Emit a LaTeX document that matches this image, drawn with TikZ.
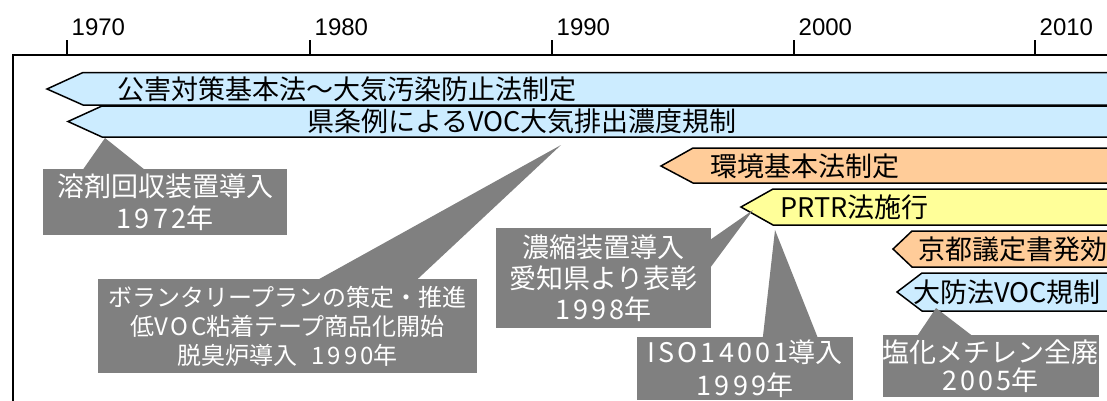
\documentclass[tikz,border=0pt]{standalone}
\usepackage{fontspec}
\usetikzlibrary{calc}
\newfontfamily\jp{Noto Sans CJK JP}
\newfontfamily\jpw{Noto Sans CJK JP}[LetterSpace=12]
\newfontfamily\lat{Liberation Sans}
\newcommand{\widedig}[1]{{\jpw #1}}
\definecolor{lblue}{HTML}{CCECFF}
\definecolor{lorange}{HTML}{FFCC99}
\definecolor{lyellow}{HTML}{FFFF99}
\definecolor{cgray}{HTML}{808080}
\begin{document}
\begin{tikzpicture}[x=1pt,y=-1pt,
  barbox/.style={draw=black,line width=1.5pt,line join=miter},
  bartext/.style={anchor=west,inner sep=0pt,font=\jp\fontsize{27}{32}\selectfont},
  yearlab/.style={anchor=base west,inner sep=0pt,font=\lat\fontsize{24}{28}\selectfont},
  axisline/.style={line width=2.6pt},
  callout/.style={fill=cgray,text=white,inner sep=0pt,align=center,font=\jp\fontsize{27}{32}\selectfont},
  pointer/.style={fill=cgray}]
\useasboundingbox (0,0) rectangle (1107,400);
\clip (0,0) rectangle (1107,400);
% axis
\draw[axisline] (13,401) -- (13,55) -- (1110,55);
\foreach \x/\y in {67/1970,310/1980,552/1990,794/2000,1035/2010}{
  \draw[axisline] (\x,40) -- (\x,56);
  \node[yearlab] (y\y) at (\x+4.5,35) {\y};
}
% bars
\draw[barbox,fill=lblue] (47,89) -- (83,72.5) -- (1115,72.5) -- (1115,105) -- (83,105) -- cycle;
\node[bartext] (b1) at (117,89) {公害対策基本法～大気汚染防止法制定};
\draw[barbox,fill=lblue] (68,121.5) -- (102,106) -- (1115,106) -- (1115,137) -- (102,137) -- cycle;
\node[bartext] (b2) at (307,121.5) {県条例によるVOC大気排出濃度規制};
\draw[barbox,fill=lorange] (661,166) -- (693,148) -- (1115,148) -- (1115,183) -- (693,183) -- cycle;
\node[bartext] (b3) at (710,166) {環境基本法制定};
\draw[barbox,fill=lyellow] (741,207) -- (773,189) -- (1115,189) -- (1115,225) -- (773,225) -- cycle;
\node[bartext] (b4) at (780,207) {PRTR法施行};
\draw[barbox,fill=lorange] (893,249) -- (912,231) -- (1115,231) -- (1115,267) -- (912,267) -- cycle;
\node[bartext] (b5) at (918,249) {京都議定書発効};
\draw[barbox,fill=lblue] (897,292) -- (922,273) -- (1115,273) -- (1115,311) -- (922,311) -- cycle;
\node[bartext] (b6) at (913,292) {大防法VOC規制};
% callout tips
\coordinate (t1) at (105,138);
\coordinate (t2) at (561,145);
\coordinate (t3) at (753,210);
\coordinate (t4) at (775,230);
\coordinate (t5) at (936,308);
% callouts
\node[callout,minimum width=244pt,minimum height=66pt] (c1) at (165,202) {溶剤回収装置導入\\\widedig{1972}年};
\fill[pointer] ($(c1.north west)+(40,1)$) -- (t1) -- ($(c1.north west)+(102,1)$) -- cycle;
\node[callout,minimum width=379pt,minimum height=94pt,font=\jp\fontsize{24}{29}\selectfont] (c2) at (287.5,326) {ボランタリープランの策定・推進\\低\widedig{VOC}粘着テープ商品化開始\\脱臭炉導入\hspace{0.6em}\widedig{1990}年};
\fill[pointer] ($(c2.north west)+(220,1)$) -- (t2) -- ($(c2.north west)+(319,1)$) -- cycle;
\node[callout,minimum width=215pt,minimum height=100pt,font=\jp\fontsize{27}{31}\selectfont] (c3) at (603.5,278) {濃縮装置導入\\愛知県より表彰\\\widedig{1998}年};
\fill[pointer] ($(c3.north east)+(-1,12)$) -- (t3) -- ($(c3.north east)+(-1,40)$) -- cycle;
\node[callout,minimum width=216pt,minimum height=63pt,font=\jp\fontsize{27}{33}\selectfont] (c4) at (745,368.5) {\widedig{ISO14001}導入\\\widedig{1999}年};
\fill[pointer] ($(c4.north west)+(126,1)$) -- (t4) -- ($(c4.north west)+(181,1)$) -- cycle;
\node[callout,minimum width=215pt,minimum height=62pt,font=\jp\fontsize{27}{28}\selectfont] (c5) at (990.5,366) {塩化メチレン全廃\\\widedig{2005}年};
\fill[pointer] ($(c5.north west)+(35,1)$) -- (t5) -- ($(c5.north west)+(90,1)$) -- cycle;
\end{tikzpicture}
\end{document}
